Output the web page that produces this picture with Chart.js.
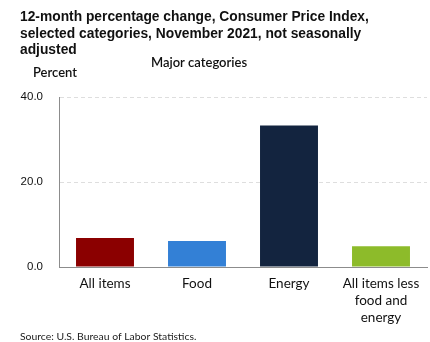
<!DOCTYPE html>
<html>
<head>
<meta charset="utf-8">
<script src="https://cdn.jsdelivr.net/npm/chart.js@4/dist/chart.umd.min.js"></script>
<style>
  html, body { margin: 0; padding: 0; background: #fff; }
  #wrap { width: 430px; height: 342px; position: relative; }
</style>
</head>
<body>
<div id="wrap"><canvas id="c" width="430" height="342"></canvas></div>
<script>
// 12-month percent change, CPI, November 2021
const categories = ['All items', 'Food', 'Energy', ['All items less', 'food and', 'energy']];
const percentChange = [6.8, 6.1, 33.3, 4.9];
const barColors = ['#8b0000', '#3380d6', '#13243f', '#8dbb2a'];
const yTicks = [0, 20, 40];

const titleLines = [
  '12-month percentage change, Consumer Price Index,',
  'selected categories, November 2021, not seasonally',
  'adjusted'
];

const textPlugin = {
  id: 'headerText',
  afterDraw(chart) {
    const ctx = chart.ctx;
    ctx.save();
    ctx.fillStyle = '#111';
    ctx.textBaseline = 'alphabetic';
    ctx.textAlign = 'left';
    ctx.font = 'bold 13.8px "Liberation Sans", Arial, sans-serif';
    titleLines.forEach((t, i) => ctx.fillText(t, 20, 21 + i * 16.5));
    ctx.font = '600 13px Lato, sans-serif';
    ctx.textAlign = 'center';
    ctx.fillText('Major categories', 199, 67);
    ctx.textAlign = 'left';
    ctx.fillText('Percent', 33, 77);
    ctx.font = '10.4px Lato, sans-serif';
    ctx.fillStyle = '#222';
    ctx.fillText('Source: U.S. Bureau of Labor Statistics.', 20, 340);
    ctx.restore();
  }
};

new Chart(document.getElementById('c'), {
  type: 'bar',
  data: {
    labels: categories,
    datasets: [{
      data: percentChange,
      backgroundColor: barColors,
      borderWidth: 0,
      categoryPercentage: 1,
      barPercentage: 0.63
    }]
  },
  options: {
    responsive: false,
    animation: false,
    events: [],
    layout: { padding: { top: 97, right: 3, left: 0, bottom: 0 } },
    plugins: { legend: { display: false }, tooltip: { enabled: false } },
    scales: {
      x: {
        afterFit(scale) { scale.height = 75; },
        grid: { display: false, drawTicks: false },
        border: { display: true, color: '#8c8c8c', width: 1 },
        ticks: {
          padding: 8,
          color: '#111',
          font: { family: 'Lato', size: 13.5, lineHeight: 1.25 },
          maxRotation: 0,
          autoSkip: false
        }
      },
      y: {
        min: 0,
        max: 40,
        afterFit(scale) { scale.width = 59; },
        afterBuildTicks(scale) { scale.ticks = yTicks.map(v => ({ value: v })); },
        grid: {
          drawTicks: false,
          color: (c) => c.tick && c.tick.value === 0 ? 'rgba(0,0,0,0)' : '#dedede',
          lineWidth: 1
        },
        border: { display: true, color: '#8c8c8c', width: 1, dash: [4, 3] },
        ticks: {
          padding: 16,
          color: '#111',
          font: { family: '"Liberation Sans", Arial, sans-serif', size: 11.5 },
          callback: (v) => Number(v).toFixed(1)
        }
      }
    }
  },
  plugins: [textPlugin]
});
</script>
</body>
</html>
